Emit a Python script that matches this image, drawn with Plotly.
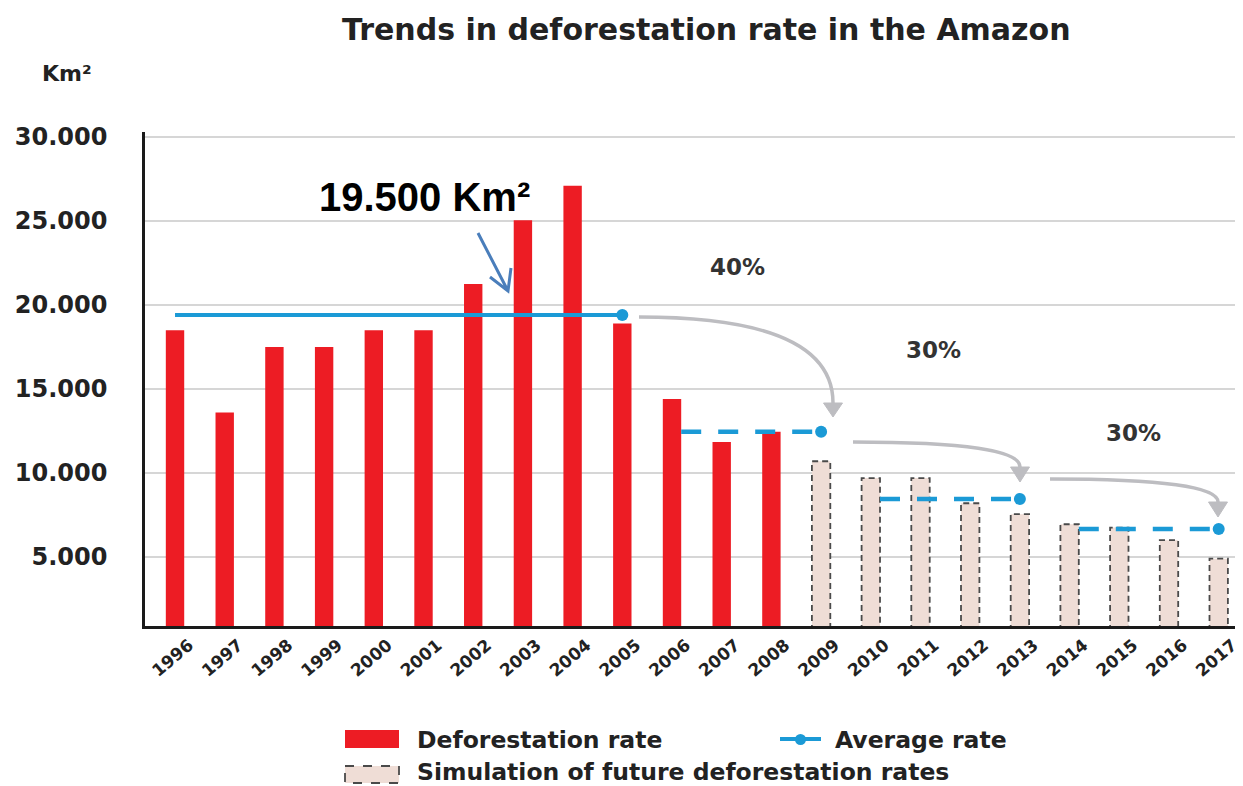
import plotly.graph_objects as go

# ---------------- data ----------------
years_obs = [1996, 1997, 1998, 1999, 2000, 2001, 2002, 2003, 2004, 2005, 2006, 2007, 2008]
rates_obs = [18500, 13600, 17500, 17500, 18500, 18500, 21250, 25050, 27100, 18900, 14400, 11850, 12450]
years_sim = [2009, 2010, 2011, 2012, 2013, 2014, 2015, 2016, 2017]
rates_sim = [10700, 9700, 9700, 8200, 7550, 6950, 6750, 6000, 4900]

avg_start = [1996, 2006, 2010, 2014]
avg_end = [2005, 2009, 2013, 2017]
avg_value = [19400, 12450, 8450, 6670]

pct_labels = ["40%", "30%", "30%"]

y_tick_vals = [5000, 10000, 15000, 20000, 25000, 30000]
y_tick_text = ["5.000", "10.000", "15.000", "20.000", "25.000", "30.000"]
x_tick_years = years_obs + years_sim
x_tick_text = [str(y) for y in x_tick_years]

# ---------------- geometry / style ----------------
OFF = 8                      # page body margin of the html page
W, H = 1243 - OFF, 786 - OFF
PL, PR, PT, PB = 145, 1243, 132, 626   # plot area in window pixels
L, R, T, B = PL - OFF, (1243 - PR), PT - OFF, (786 - PB)
X_RANGE = [1995.396, 2017.489]
Y_RANGE = [893, 30298]
BAR_W = 0.37

RED = "#ED1C24"
SIM_FILL = "#EFDDD6"
SIM_LINE = "#4a4a4a"
BLUE = "#1B9AD6"
GRAY = "#BDBDC1"
TXT = "#222222"
FONT = "DejaVu Sans"


def d(px, py):
    """window pixel position -> data coordinates (decorations only)"""
    x = X_RANGE[0] + (px - PL) / (PR - PL) * (X_RANGE[1] - X_RANGE[0])
    y = Y_RANGE[1] - (py - PT) / (PB - PT) * (Y_RANGE[1] - Y_RANGE[0])
    return x, y


def p(px, py):
    """window pixel position -> paper coordinates (decorations only)"""
    return (px - PL) / (PR - PL), (PB - py) / (PB - PT)


fig = go.Figure()

fig.add_trace(go.Bar(x=years_obs, y=rates_obs, width=BAR_W,
                     marker=dict(color=RED, line=dict(width=0)),
                     name="Deforestation rate", showlegend=False))
fig.add_trace(go.Bar(x=years_sim, y=rates_sim, width=BAR_W,
                     marker=dict(color=SIM_FILL, line=dict(width=0)),
                     name="Simulation of future deforestation rates", showlegend=False))
ox, oy = [], []
for yr, v in zip(years_sim, rates_sim):
    ox += [yr - BAR_W / 2, yr - BAR_W / 2, yr + BAR_W / 2, yr + BAR_W / 2, None]
    oy += [0, v, v, 0, None]
fig.add_trace(go.Scatter(x=ox, y=oy, mode="lines",
                         line=dict(color=SIM_LINE, width=1.8, dash="6px,4px"),
                         hoverinfo="skip", showlegend=False))

for i, (s, e, v) in enumerate(zip(avg_start, avg_end, avg_value)):
    x0 = s if i == 0 else s + BAR_W / 2
    fig.add_trace(go.Scatter(x=[x0, e], y=[v, v], mode="lines",
                             line=dict(color=BLUE, width=4 if i == 0 else 4.5,
                                       dash="solid" if i == 0 else "20px,17px"),
                             name="Average rate", showlegend=False))
fig.add_trace(go.Scatter(x=avg_end, y=avg_value, mode="markers",
                         marker=dict(color=BLUE, size=12), showlegend=False))

shapes = []
annotations = []

curves = [((639, 317), (833, 317), (833, 403), (833, 417)),
          ((853, 442), (1020, 442), (1020, 467), (1020, 482)),
          ((1050, 479), (1218, 479), (1218, 502), (1218, 517))]
for (s, c, e, tip) in curves:
    sx, sy = d(*s)
    cx, cy = d(*c)
    ex, ey = d(*e)
    shapes.append(dict(type="path", xref="x", yref="y",
                       path=f"M {sx},{sy} Q {cx},{cy} {ex},{ey}",
                       line=dict(color=GRAY, width=3.5)))
    a1 = d(e[0] - 9.5, e[1])
    a2 = d(e[0] + 9.5, e[1])
    t = d(*tip)
    shapes.append(dict(type="path", xref="x", yref="y",
                       path=f"M {a1[0]},{a1[1]} L {a2[0]},{a2[1]} L {t[0]},{t[1]} Z",
                       fillcolor=GRAY, line=dict(color=GRAY, width=1)))

tl = d(478, 233); hd = d(508, 291); ar1 = d(490, 277); ar2 = d(511, 268)
shapes.append(dict(type="path", xref="x", yref="y",
                   path=f"M {tl[0]},{tl[1]} L {hd[0]},{hd[1]} M {ar1[0]},{ar1[1]} L {hd[0]},{hd[1]} L {ar2[0]},{ar2[1]}",
                   line=dict(color="#4A7EBB", width=3)))

for lab, pos in zip(pct_labels, [(737, 267), (933, 350), (1133, 433)]):
    x, y = d(*pos)
    annotations.append(dict(x=x, y=y, xref="x", yref="y", text=lab, showarrow=False,
                            font=dict(family=FONT, size=23, color="#333333", weight="bold")))

x, y = d(424, 197)
annotations.append(dict(x=x, y=y, xref="x", yref="y", text="19.500 Km²", showarrow=False,
                        font=dict(family="Liberation Sans", size=40, color="#000000", weight="bold")))

x, y = p(706, 30)
annotations.append(dict(x=x, y=y, xref="paper", yref="paper", text="Trends in deforestation rate in the Amazon",
                        showarrow=False, xanchor="center", yanchor="middle",
                        font=dict(family=FONT, size=30, color=TXT, weight="bold")))
x, y = p(67, 73)
annotations.append(dict(x=x, y=y, xref="paper", yref="paper", text="Km²",
                        showarrow=False, xanchor="center", yanchor="middle",
                        font=dict(family=FONT, size=22, color=TXT, weight="bold")))

# legend (drawn manually to match swatch sizes)
x0, y0 = p(345, 730); x1, y1 = p(399, 748)
shapes.append(dict(type="rect", xref="paper", yref="paper", x0=x0, y0=y0, x1=x1, y1=y1,
                   fillcolor=RED, line=dict(width=0)))
x0, y0 = p(345, 766); x1, y1 = p(399, 783)
shapes.append(dict(type="rect", xref="paper", yref="paper", x0=x0, y0=y0, x1=x1, y1=y1,
                   fillcolor=SIM_FILL, line=dict(color=SIM_LINE, width=1.8, dash="dash")))
x0, y0 = p(780, 739); x1, _ = p(821, 739)
shapes.append(dict(type="line", xref="paper", yref="paper", x0=x0, y0=y0, x1=x1, y1=y0,
                   line=dict(color=BLUE, width=4)))
cx0, cy0 = p(795, 734); cx1, cy1 = p(806, 745)
shapes.append(dict(type="circle", xref="paper", yref="paper", x0=cx0, y0=cy0, x1=cx1, y1=cy1,
                   fillcolor=BLUE, line=dict(width=0)))
for txt, pos in [("Deforestation rate", (415, 740)), ("Average rate", (833, 740)),
                 ("Simulation of future deforestation rates", (415, 772))]:
    x, y = p(*pos)
    annotations.append(dict(x=x, y=y, xref="paper", yref="paper", text=txt, showarrow=False,
                            xanchor="left", yanchor="middle",
                            font=dict(family=FONT, size=23.5, color=TXT, weight="bold")))

fig.update_layout(
    width=W, height=H,
    margin=dict(l=L, r=R, t=T, b=B, pad=0),
    paper_bgcolor="white", plot_bgcolor="white",
    barmode="overlay", showlegend=False,
    shapes=shapes, annotations=annotations,
    font=dict(family=FONT, color=TXT),
    xaxis=dict(range=X_RANGE, tickmode="array",
               tickvals=x_tick_years, ticktext=x_tick_text, ticklabelshift=14,
               ticklabeloverflow="allow",
               tickangle=-40, showgrid=False, zeroline=False, showline=True,
               linecolor="#1a1a1a", linewidth=2.5, ticks="",
               tickfont=dict(family=FONT, size=17, color=TXT, weight="bold")),
    yaxis=dict(range=Y_RANGE, tickmode="array", tickvals=y_tick_vals, ticktext=y_tick_text,
               showgrid=True, gridcolor="#d6d6d6", gridwidth=2, zeroline=False,
               showline=True, linecolor="#1a1a1a", linewidth=2.5, ticks="",
               ticklabelstandoff=30,
               tickfont=dict(family=FONT, size=24, color=TXT, weight="bold")),
)

fig.write_html("out.html")
